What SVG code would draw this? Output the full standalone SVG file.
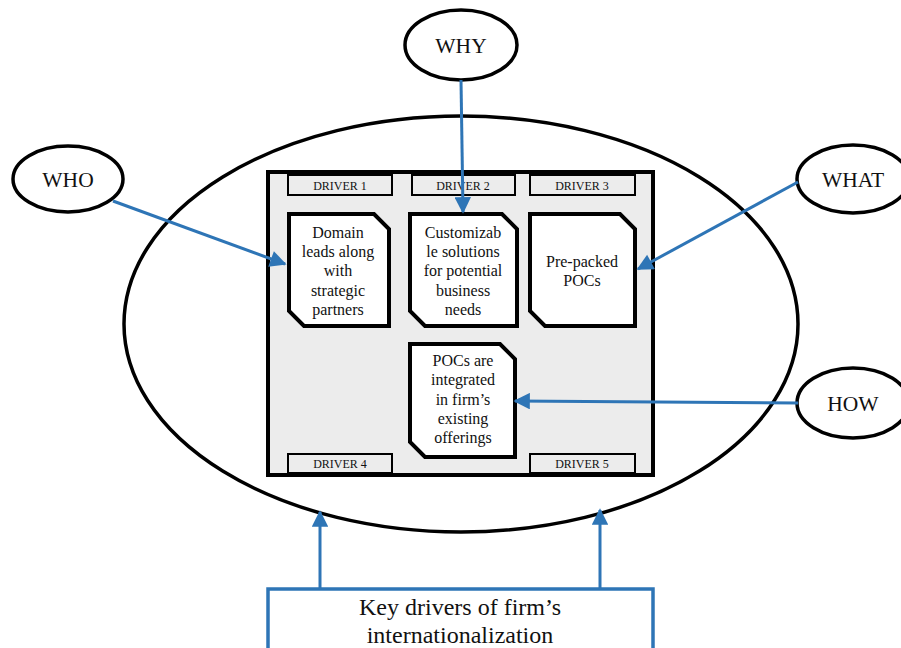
<svg xmlns="http://www.w3.org/2000/svg" width="901" height="648" viewBox="0 0 901 648">
  <style>
    text { font-family: "Liberation Serif", "Times New Roman", serif; fill: #111; text-anchor: middle; }
    .q { font-size: 21.5px; }
    .body { font-size: 16px; }
    .drv { font-size: 12px; }
    .big { font-size: 24px; }
    .oval { fill: #fff; stroke: #000; stroke-width: 3.5; }
    .card { fill: #fff; stroke: #000; stroke-width: 4; stroke-linejoin: miter; }
    .tag { fill: #ececec; stroke: #000; stroke-width: 2; }
    .link { fill: none; stroke: #2e75b6; stroke-width: 3; marker-end: url(#head); }
  </style>
  <defs>
    <marker id="head" viewBox="0 0 10 10" refX="9" refY="5" markerWidth="6" markerHeight="5.5" orient="auto" markerUnits="strokeWidth">
      <path d="M0,0 L10,5 L0,10 Z" fill="#2e75b6"/>
    </marker>
  </defs>
  <rect width="901" height="648" fill="#fff"/>

  <!-- outer scope ellipse -->
  <g id="scope">
    <ellipse cx="461" cy="324" rx="337" ry="208" fill="#fff" stroke="#000" stroke-width="3.5"/>
  </g>

  <!-- driver panel -->
  <g id="panel">
    <rect x="268" y="172" width="385" height="303" fill="#ececec" stroke="#000" stroke-width="4"/>
    <rect class="tag" x="288" y="175" width="104" height="20"/>
    <text class="drv" x="340" y="190">DRIVER 1</text>
    <rect class="tag" x="412" y="175" width="103" height="20"/>
    <text class="drv" x="463" y="190">DRIVER 2</text>
    <rect class="tag" x="530" y="175" width="105" height="20"/>
    <text class="drv" x="582" y="190">DRIVER 3</text>
    <rect class="tag" x="288" y="454" width="104" height="19"/>
    <text class="drv" x="340" y="468">DRIVER 4</text>
    <rect class="tag" x="530" y="454" width="105" height="19"/>
    <text class="drv" x="582" y="468">DRIVER 5</text>
  </g>

  <g id="driver1">
    <path class="card" d="M289,214 L374,214 L389,229 L389,326 L304,326 L289,311 Z"/>
    <text class="body" x="338" y="238">Domain</text>
    <text class="body" x="338" y="257">leads along</text>
    <text class="body" x="338" y="276">with</text>
    <text class="body" x="338" y="296">strategic</text>
    <text class="body" x="338" y="315">partners</text>
  </g>

  <g id="driver2">
    <path class="card" d="M410,214 L502,214 L517,229 L517,326 L425,326 L410,311 Z"/>
    <text class="body" x="463" y="238">Customizab</text>
    <text class="body" x="463" y="257">le solutions</text>
    <text class="body" x="463" y="276">for potential</text>
    <text class="body" x="463" y="296">business</text>
    <text class="body" x="463" y="315">needs</text>
  </g>

  <g id="driver3">
    <path class="card" d="M530,214 L620,214 L635,229 L635,326 L545,326 L530,311 Z"/>
    <text class="body" x="582" y="267">Pre-packed</text>
    <text class="body" x="582" y="286">POCs</text>
  </g>

  <g id="driver45">
    <path class="card" d="M410,344 L500,344 L515,359 L515,457 L425,457 L410,442 Z"/>
    <text class="body" x="463" y="366">POCs are</text>
    <text class="body" x="463" y="385">integrated</text>
    <text class="body" x="463" y="405">in firm’s</text>
    <text class="body" x="463" y="424">existing</text>
    <text class="body" x="463" y="443">offerings</text>
  </g>

  <g id="who">
    <ellipse class="oval" cx="68" cy="179" rx="55" ry="33"/>
    <text class="q" x="68" y="187">WHO</text>
  </g>
  <g id="why">
    <ellipse class="oval" cx="461" cy="45" rx="56" ry="35"/>
    <text class="q" x="461" y="53">WHY</text>
  </g>
  <g id="what">
    <ellipse class="oval" cx="853" cy="179" rx="56" ry="34"/>
    <text class="q" x="853" y="187">WHAT</text>
  </g>
  <g id="how">
    <ellipse class="oval" cx="853" cy="403" rx="56" ry="35"/>
    <text class="q" x="853" y="411">HOW</text>
  </g>

  <g id="summary">
    <rect x="268" y="589" width="385" height="80" fill="#fff" stroke="#2e75b6" stroke-width="3.5"/>
    <text class="big" x="460" y="615">Key drivers of firm’s</text>
    <text class="big" x="460" y="643">internationalization</text>
  </g>

  <!-- connectors -->
  <g id="connectors">
    <line class="link" x1="113" y1="201" x2="285" y2="264"/>
    <line class="link" x1="461" y1="80" x2="463" y2="212"/>
    <line class="link" x1="798" y1="182" x2="638" y2="269"/>
    <line class="link" x1="798" y1="403" x2="515" y2="401"/>
    <line class="link" x1="320" y1="588" x2="320" y2="512"/>
    <line class="link" x1="600" y1="588" x2="600" y2="510"/>
  </g>
</svg>
